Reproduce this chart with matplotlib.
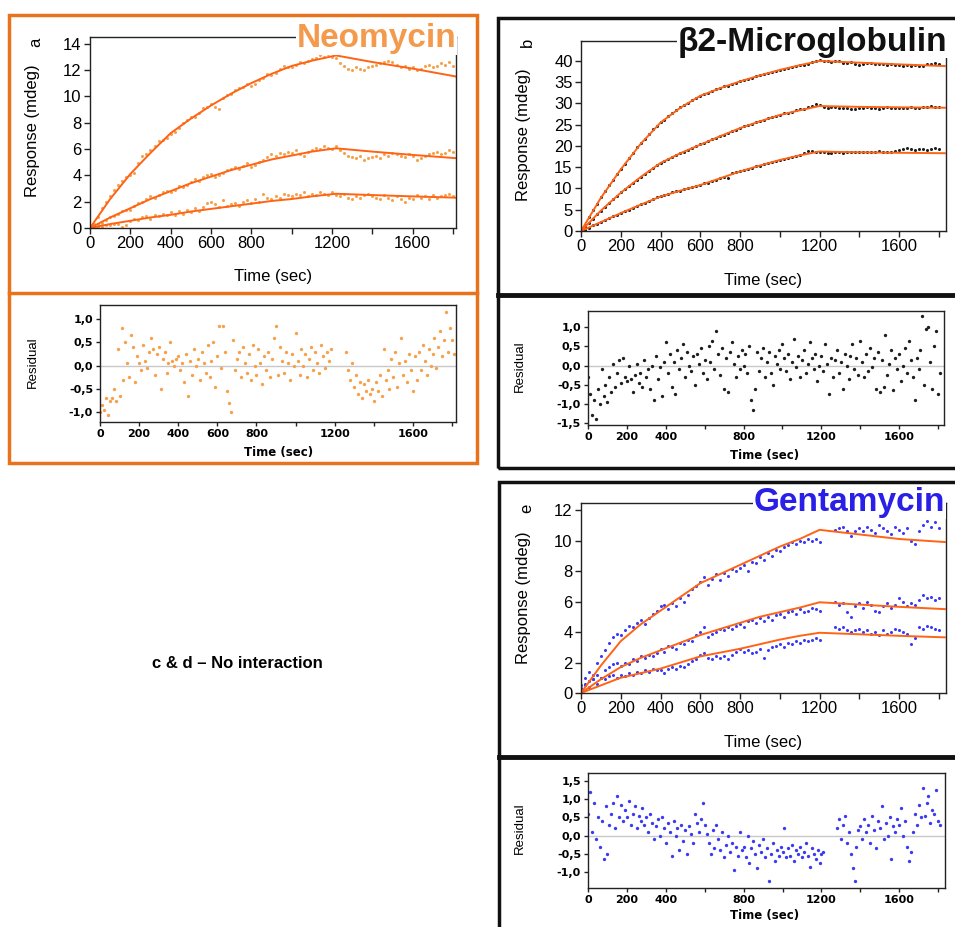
import matplotlib
matplotlib.use('Agg')
import matplotlib.pyplot as plt
import numpy as np
from matplotlib.patches import Rectangle
from matplotlib.lines import Line2D

nan = np.nan

# sampled times (s)
t20 = np.arange(0, 1820, 20)   # measured response, every 20 s
t10 = np.arange(0, 1820, 10)   # residuals, every 10 s

# fitted curves
fit_t_a = [0, 100, 200, 300, 400, 500, 600, 700, 800, 900, 1000, 1100, 1220, 1400, 1600, 1815]
fit_a_hi = [0, 2.2, 4.1, 5.7, 7.2, 8.3, 9.3, 10.2, 11.0, 11.7, 12.3, 12.7, 13.1, 12.6, 12.1, 11.5]
fit_a_mid = [0, 0.8, 1.5, 2.2, 2.8, 3.4, 3.9, 4.4, 4.8, 5.2, 5.5, 5.8, 6.05, 5.8, 5.55, 5.3]
fit_a_lo = [0, 0.3, 0.55, 0.8, 1.0, 1.25, 1.45, 1.65, 1.85, 2.05, 2.2, 2.4, 2.6, 2.5, 2.4, 2.3]

fit_t_be = [0, 100, 200, 300, 400, 500, 600, 700, 800, 900, 1000, 1100, 1200, 1400, 1600, 1830]
fit_b_hi = [0, 7.8, 14.5, 20.5, 25.5, 29, 31.8, 33.6, 35.2, 36.6, 37.9, 39, 40, 39.6, 39.2, 38.8]
fit_b_mid = [0, 4.8, 9, 12.7, 16, 18.3, 20.3, 22.3, 24.2, 25.8, 27.3, 28.4, 29.4, 29.2, 29.1, 29.0]
fit_b_lo = [0, 2.1, 4.2, 6.2, 8.1, 9.5, 10.8, 12.4, 14, 15.4, 16.7, 17.8, 18.7, 18.5, 18.4, 18.3]

fit_e_hi = [0, 1.8, 3.4, 4.5, 5.4, 6.3, 7.2, 7.8, 8.4, 9.0, 9.6, 10.1, 10.7, 10.4, 10.1, 9.9]
fit_e_mid = [0, 0.9, 1.7, 2.3, 2.8, 3.3, 3.8, 4.2, 4.6, 5.0, 5.3, 5.6, 5.95, 5.8, 5.65, 5.5]
fit_e_lo = [0, 0.5, 1.0, 1.3, 1.6, 2.0, 2.4, 2.65, 2.9, 3.2, 3.5, 3.75, 3.95, 3.85, 3.75, 3.65]

# measured data, Neomycin
a_hi = [0.0, 0.3, 0.8, 1.5, 2.0, 2.4, 2.9, 3.3, 3.6, 3.9,
        4.0, 4.2, 4.9, 5.5, 5.6, 5.9, 6.2, 6.6, 6.7, 6.8,
        7.1, 7.3, 7.6, 8.0, 8.2, 8.4, 8.4, 8.7, 9.1, 9.2,
        9.4, 9.2, 9.0, 9.9, 10.1, 10.2, 10.5, 10.6, 10.7, 10.9,
        10.8, 10.9, 11.2, 11.4, 11.7, 11.6, 11.8, 12.1, 12.3, 12.2,
        12.2, 12.4, 12.6, 12.5, 12.7, 12.8, 12.9, 13.1, 13.0, 13.2,
        13.0, 12.9, 12.5, 12.3, 12.1, 12.0, 12.2, 12.1, 12.0, 12.2,
        12.3, 12.4, 12.5, 12.6, 12.7, 12.6, 12.4, 12.2, 12.3, 12.1,
        12.2, 12.0, 12.1, 12.3, 12.4, 12.2, 12.3, 12.5, 12.4, 12.6,
        12.3]
a_mid = [0.0, 0.1, 0.3, 0.4, 0.6, 0.8, 0.9, 1.1, 1.3, 1.4,
         1.4, 1.7, 1.9, 2.0, 2.2, 2.4, 2.3, 2.5, 2.7, 2.8,
         2.7, 2.9, 3.2, 3.1, 3.3, 3.5, 3.7, 3.6, 3.9, 4.0,
         4.1, 3.9, 4.0, 4.2, 4.4, 4.5, 4.6, 4.5, 4.7, 4.9,
         4.6, 4.8, 5.0, 5.2, 5.4, 5.6, 5.5, 5.7, 5.6, 5.8,
         5.7, 5.9, 5.6, 5.5, 5.8, 5.9, 6.1, 6.0, 6.2, 6.1,
         6.0, 6.2, 5.9, 5.7, 5.5, 5.4, 5.3, 5.5, 5.2, 5.3,
         5.4, 5.5, 5.3, 5.6, 5.5, 5.7, 5.6, 5.5, 5.4, 5.6,
         5.5, 5.2, 5.3, 5.5, 5.6, 5.7, 5.8, 5.6, 5.7, 5.9,
         5.8]
a_lo = [0.0, 0.0, 0.1, 0.1, 0.2, 0.2, 0.3, 0.3, 0.1, 0.2,
        0.5, 0.7, 0.6, 0.8, 0.9, 0.7, 1.0, 0.9, 1.1, 1.0,
        1.2, 1.0, 1.3, 1.1, 1.4, 1.2, 1.5, 1.3, 1.6, 1.9,
        2.0, 1.8, 1.6, 2.1, 1.7, 1.8, 1.9, 1.7, 2.0, 2.1,
        1.9, 2.2, 2.0, 2.6, 2.3, 2.2, 2.4, 2.3, 2.6, 2.5,
        2.4, 2.6, 2.5, 2.7, 2.4, 2.6, 2.5, 2.7, 2.6, 2.5,
        2.7, 2.5, 2.4, 2.6, 2.3, 2.2, 2.4, 2.3, 2.5, 2.6,
        2.4, 2.3, 2.2, 2.5, 2.3, 2.1, 2.4, 2.2, 2.0, 2.3,
        2.2, 2.5, 2.3, 2.4, 2.2, 2.5, 2.3, 2.4, 2.5, 2.6,
        2.4]

# measured data, b2-microglobulin
b_hi = [0.2, 1.4, 3.2, 4.9, 6.3, 7.9, 9.4, 10.8, 12.1, 13.4,
        14.6, 15.8, 17.2, 18.4, 19.7, 20.6, 21.7, 22.8, 23.9, 24.6,
        25.6, 26.2, 27.0, 27.7, 28.4, 29.1, 29.7, 30.2, 30.8, 31.3,
        31.7, 32.2, 32.5, 32.9, 33.3, 33.6, 34.0, 34.2, 34.7, 34.9,
        35.3, 35.5, 35.8, 36.1, 36.4, 36.6, 37.0, 37.2, 37.4, 37.7,
        37.9, 38.2, 38.4, 38.6, 38.8, 39.0, 39.1, 39.3, 39.8, 40.1,
        40.3, 40.0, 39.9, 39.8, 40.0, 39.9, 39.6, 39.5, 39.7, 39.3,
        39.0, 39.4, 39.6, 39.5, 39.3, 39.4, 39.2, 39.1, 39.3, 39.1,
        39.0, 38.9, 39.1, 38.9, 39.0, 38.8, 38.9, 39.2, 39.4, 39.5,
        39.3]
b_mid = [0.1, 0.9, 1.9, 2.9, 3.9, 4.8, 5.7, 6.6, 7.5, 8.3,
         9.1, 9.8, 10.6, 11.4, 12.0, 12.8, 13.4, 14.2, 14.8, 15.5,
         16.0, 16.5, 17.0, 17.3, 17.8, 18.3, 18.7, 19.1, 19.5, 20.0,
         20.4, 20.8, 21.2, 21.6, 21.9, 22.3, 22.7, 23.1, 23.5, 23.8,
         24.3, 24.6, 24.9, 25.2, 25.6, 25.9, 26.2, 26.5, 26.9, 27.1,
         27.3, 27.7, 27.8, 28.1, 28.4, 28.6, 28.8, 29.1, 29.5, 29.8,
         29.6, 29.1, 29.0, 29.2, 29.1, 28.9, 29.0, 28.9, 28.7, 28.8,
         29.0, 28.9, 29.1, 29.0, 28.9, 28.8, 29.0, 29.1, 29.0, 28.9,
         29.0, 29.0, 28.9, 29.1, 29.0, 28.9, 29.1, 29.2, 29.3, 29.1,
         29.2]
b_lo = [0.0, 0.2, 0.7, 1.3, 1.7, 2.1, 2.6, 3.1, 3.5, 3.8,
        4.3, 4.6, 5.0, 5.4, 5.9, 6.3, 6.7, 7.1, 7.6, 7.9,
        8.2, 8.4, 8.8, 9.1, 9.3, 9.5, 9.8, 10.1, 10.3, 10.6,
        10.8, 11.2, 11.4, 11.8, 12.1, 12.4, 12.7, 12.5, 13.6, 13.8,
        14.0, 14.3, 14.5, 14.9, 15.2, 15.4, 15.7, 16.0, 16.3, 16.5,
        16.7, 17.0, 17.2, 17.4, 17.7, 17.9, 18.4, 18.9, 18.8, 18.6,
        18.7, 18.5, 18.4, 18.3, 18.6, 18.5, 18.4, 18.6, 18.5, 18.7,
        18.6, 18.7, 18.6, 18.5, 18.7, 18.8, 18.6, 18.7, 18.6, 18.8,
        19.0, 19.4, 19.5, 19.3, 19.1, 19.2, 19.3, 19.0, 19.2, 19.5,
        19.3]

# measured data, Gentamycin
e_hi = [0.5, 1.0, 1.4, 1.2, 2.0, 2.4, 2.8, 3.3, 3.7, 3.9,
        3.8, 4.1, 4.4, 4.3, 4.6, 4.8, 4.5, 4.9, 5.2, 5.4,
        5.7, 5.8, 5.5, 5.9, 5.7, 6.2, 6.0, 6.4, 6.8, 7.0,
        7.3, 7.6, 7.1, 7.5, 7.8, 7.4, 7.9, 7.7, 8.1, 8.0,
        8.2, 8.4, 8.0, 8.6, 8.5, 8.9, 8.7, 9.2, 9.0, 9.4,
        9.3, 9.6, 9.7, 9.9, 9.8, 10.0, 9.9, 10.1, 10.0, 10.1,
        9.9, nan, nan, nan, 10.7, 10.8, 10.9, 10.6, 10.3, 10.6,
        10.8, 10.6, 10.9, 10.7, 10.5, 11.0, 10.8, 10.6, 10.4, 10.9,
        10.7, 10.5, 10.8, 10.0, 9.8, 10.6, 11.0, 11.3, 10.9, 11.2,
        10.8]
e_mid = [0.3, 0.6, 0.4, 0.9, 1.2, 1.0, 1.5, 1.7, 1.9, 2.0,
         1.8, 2.0, 1.9, 2.2, 2.1, 2.4, 2.3, 2.5, 2.4, 2.6,
         2.9, 2.7, 3.1, 3.0, 2.9, 3.3, 3.2, 3.5, 3.4, 3.8,
         4.0, 4.3, 3.7, 3.9, 4.0, 4.2, 4.1, 4.3, 4.2, 4.4,
         4.5, 4.3, 4.7, 4.8, 4.6, 4.9, 4.7, 5.0, 4.8, 5.1,
         5.2, 5.0, 5.3, 5.4, 5.2, 5.5, 5.3, 5.4, 5.6, 5.5,
         5.4, nan, nan, nan, 6.0, 5.8, 5.9, 5.3, 5.0, 5.7,
         5.9, 5.6, 6.0, 5.8, 5.4, 5.3, 5.7, 5.9, 5.6, 5.8,
         6.2, 6.0, 5.7, 5.9, 5.8, 6.1, 6.4, 6.2, 6.3, 6.1,
         6.2]
e_lo = [0.2, 0.5, 0.8, 0.9, 0.6, 1.0, 0.9, 1.1, 1.2, 1.0,
        1.2, 1.1, 1.3, 1.2, 1.4, 1.3, 1.5, 1.4, 1.6, 1.5,
        1.5, 1.3, 1.6, 1.7, 1.6, 1.8, 1.7, 1.9, 2.1, 2.2,
        2.5, 2.6, 2.3, 2.2, 2.4, 2.3, 2.4, 2.2, 2.5, 2.7,
        2.9, 2.7, 2.8, 2.6, 2.7, 2.9, 2.3, 2.8, 3.0, 3.1,
        3.2, 3.0, 3.3, 3.2, 3.4, 3.3, 3.5, 3.4, 3.5, 3.6,
        3.5, nan, nan, nan, 4.3, 4.2, 4.3, 4.1, 4.0, 4.1,
        4.2, 4.0, 4.1, 3.9, 4.0, 3.8, 4.1, 3.9, 4.0, 4.2,
        4.1, 4.0, 3.9, 3.2, 3.6, 4.3, 4.2, 4.4, 4.3, 4.2,
        4.1]

# residuals
res_a = [-1.0, -0.85, -0.95, -0.7, -1.05, -0.75, -0.7, -0.5, -0.75, 0.35,
         -0.65, 0.8, -0.3, 0.5, 0.05, -0.25, 0.65, 0.4, -0.35, 0.2,
         0.05, -0.1, 0.45, 0.1, -0.05, 0.3, 0.6, 0.35, -0.2, 0.25,
         0.4, -0.5, 0.15, 0.3, -0.15, 0.05, 0.5, 0.1, 0.0, 0.15,
         0.2, -0.1, 0.05, -0.35, 0.25, -0.65, 0.1, -0.2, 0.35, 0.0,
         0.15, -0.3, 0.3, 0.05, -0.15, 0.45, -0.25, 0.1, 0.5, -0.45,
         0.2, 0.85, -0.05, 0.85, 0.3, -0.55, -0.8, -1.0, 0.55, -0.1,
         0.15, 0.3, -0.25, 0.4, 0.05, -0.15, 0.25, -0.3, 0.45, 0.0,
         -0.2, 0.35, 0.05, -0.4, 0.2, -0.1, 0.3, -0.25, 0.15, 0.6,
         0.85, -0.2, 0.4, 0.1, -0.15, 0.3, 0.05, -0.3, 0.25, 0.0,
         0.7, 0.1, -0.2, 0.35, 0.0, 0.25, -0.25, 0.15, 0.4, -0.1,
         0.3, 0.05, -0.15, 0.45, 0.2, -0.05, 0.3, 0.1, 0.35, nan,
         nan, nan, nan, nan, nan, nan, 0.3, -0.1, -0.3, 0.05,
         -0.45, -0.2, -0.6, -0.35, -0.7, -0.4, -0.55, -0.3, -0.6, -0.5,
         -0.75, -0.35, -0.55, -0.2, -0.65, 0.35, -0.3, -0.1, -0.5, 0.15,
         -0.25, 0.3, -0.45, 0.05, 0.6, -0.2, 0.1, -0.35, 0.25, -0.1,
         -0.55, 0.2, -0.3, 0.3, -0.1, 0.45, 0.1, -0.2, 0.35, 0.0,
         0.25, 0.6, -0.05, 0.4, 0.75, 0.2, 0.55, 1.15, 0.3, 0.8,
         0.55, 0.25]
res_b = [-0.3, -0.75, -1.3, -0.9, -1.4, -0.6, -1.0, -0.1, -0.8, -0.5,
         -0.95, -0.3, -0.7, 0.05, -0.55, -0.2, 0.15, -0.45, 0.2, -0.3,
         -0.4, 0.0, -0.35, -0.7, -0.25, 0.05, -0.45, -0.2, -0.55, 0.15,
         -0.3, -0.1, -0.6, 0.0, -0.9, 0.25, -0.35, -0.05, -0.8, 0.1,
         0.6, -0.2, 0.3, -0.55, 0.1, -0.75, 0.4, -0.1, 0.2, 0.55,
         -0.3, 0.35, 0.0, -0.15, 0.25, -0.5, 0.3, 0.05, 0.45, -0.2,
         0.15, -0.35, 0.5, 0.1, 0.65, -0.1, 0.9, 0.3, -0.25, 0.45,
         -0.6, 0.2, -0.7, 0.35, 0.6, 0.05, -0.3, 0.25, -0.1, 0.4,
         0.0, 0.3, -0.2, 0.5, -0.9, -1.15, -0.6, 0.35, -0.15, 0.2,
         0.45, -0.3, 0.1, 0.35, -0.2, -0.5, 0.25, 0.05, 0.4, -0.1,
         0.55, 0.2, -0.15, 0.3, -0.35, 0.1, 0.7, -0.05, 0.25, -0.3,
         0.15, 0.4, -0.2, 0.05, 0.6, 0.2, -0.1, 0.3, -0.4, 0.0,
         0.25, -0.15, 0.55, 0.05, -0.75, 0.2, -0.3, 0.15, 0.4, -0.2,
         0.1, -0.6, 0.3, 0.0, -0.35, 0.25, 0.55, -0.1, 0.2, -0.25,
         0.65, 0.1, -0.3, 0.3, -0.15, 0.45, -0.05, 0.2, -0.6, 0.35,
         -0.7, 0.15, -0.55, 0.8, -0.25, 0.05, 0.4, -0.65, 0.2, -0.1,
         0.3, -0.4, 0.0, 0.45, -0.2, 0.65, 0.15, -0.3, -0.9, 0.2,
         -0.1, 0.4, 1.3, -0.5, 0.95, 1.0, 0.1, -0.6, 0.5, 0.9,
         -0.75, -0.2]
res_e = [0.6, 1.2, 0.1, 0.9, -0.1, 0.5, -0.3, 0.4, -0.65, 0.8,
         -0.5, 0.3, 0.6, 0.9, 0.2, 1.1, 0.5, 0.85, 0.4, 0.7,
         0.5, 0.95, 0.3, 0.6, 0.8, 0.2, 0.55, 0.4, 0.75, 0.3,
         0.5, 0.1, 0.6, 0.35, -0.1, 0.25, 0.45, 0.0, 0.5, 0.2,
         -0.2, 0.35, 0.1, -0.55, 0.4, 0.0, 0.2, -0.4, 0.3, -0.15,
         0.15, -0.5, 0.25, 0.05, -0.2, 0.6, 0.35, 0.1, 0.45, 0.9,
         0.3, 0.05, -0.2, -0.5, 0.15, -0.35, 0.3, -0.1, -0.4, 0.1,
         -0.6, -0.25, 0.0, -0.45, -0.2, -0.95, -0.3, -0.55, 0.1, -0.4,
         -0.3, -0.6, 0.0, -0.75, -0.35, -0.15, -0.5, -0.9, -0.25, -0.45,
         -0.1, -0.6, -0.35, -1.25, -0.5, -0.2, -0.7, -0.4, -0.55, -0.3,
         -0.45, 0.2, -0.6, -0.35, -0.55, -0.25, -0.7, -0.4, -0.5, -0.3,
         -0.6, -0.45, -0.2, -0.55, -0.85, -0.35, -0.5, -0.65, -0.4, -0.75,
         -0.5, -0.45, nan, nan, nan, nan, nan, nan, 0.2, 0.45,
         -0.1, 0.3, 0.55, -0.2, 0.1, -0.5, -0.9, -1.25, -0.3, 0.15,
         0.25, -0.1, 0.45, 0.1, 0.3, -0.2, 0.55, 0.15, -0.35, 0.4,
         0.2, 0.8, -0.1, 0.35, 0.0, 0.5, -0.65, 0.25, 0.1, 0.45,
         0.3, 0.75, 0.0, 0.4, -0.3, -0.7, -0.45, 0.1, 0.6, 0.3,
         0.85, 0.5, 1.3, 0.55, 0.9, 1.1, 0.35, 0.7, 0.6, 1.25,
         0.4, 0.3]

main_xticks = [0, 200, 400, 600, 800, 1000, 1200, 1400, 1600, 1800]
main_xlabels = ['0', '200', '400', '600', '800', '', '1200', '', '1600', '']
res_xlabels_a = ['0', '200', '400', '600', '800', '', '1200', '', '1600', '']
res_xlabels_be = ['0', '200', '400', '', '800', '', '1200', '', '1600', '']

ORANGE_DOT = '#f7a048'
FIT = '#ff6315'
BLUE_DOT = '#3a3af5'
BLACK_DOT = '#1e1e1e'
FRAME_OR = '#e8731c'

MAIN_FONT = ['Liberation Sans', 'DejaVu Sans']
RES_FONT = ['DejaVu Sans']
NARROW = ['Liberation Sans Narrow', 'Liberation Sans', 'DejaVu Sans']

W, H = 955, 927
fig = plt.figure(figsize=(W / 100, H / 100), dpi=100)


def px_axes(l, t, r, b):
    return fig.add_axes([l / W, 1 - b / H, (r - l) / W, (b - t) / H])


def ftxt(x, y, s, **kw):
    return fig.text(x / W, 1 - y / H, s, **kw)


def frame(ax):
    for sp in ax.spines.values():
        sp.set_color('#222222')
        sp.set_linewidth(1.0)
    ax.tick_params(direction='out', length=4, width=1, color='#222222', pad=2)


def main_panel(ax, fit_t, fits, t, series, color, xmax, ymax, yticks):
    for d in series:
        ax.plot(t, d, 'o', ms=2.2, color=color, mec='none')
    for f in fits:
        ax.plot(fit_t, f, '-', color=FIT, lw=1.4)
    ax.set_xlim(0, xmax)
    ax.set_ylim(0, ymax)
    ax.set_xticks(main_xticks)
    ax.set_xticklabels(main_xlabels, family=MAIN_FONT, fontsize=12)
    ax.set_yticks(yticks)
    ax.set_yticklabels([str(v) for v in yticks], family=MAIN_FONT, fontsize=12)
    frame(ax)


def res_panel(ax, res, color, xmax, ylim, yticks, xlabels):
    ax.axhline(0, color='#c8c8c8', lw=1.0, zorder=0)
    ax.plot(t10, res, 'o', ms=2.4, color=color, mec='none')
    ax.set_xlim(0, xmax)
    ax.set_ylim(*ylim)
    ax.set_xticks(main_xticks)
    ax.set_xticklabels(xlabels, family=RES_FONT, fontsize=8, fontweight='bold')
    ax.set_yticks(yticks)
    ax.set_yticklabels([('%.1f' % v).replace('.', ',') for v in yticks],
                       family=RES_FONT, fontsize=8, fontweight='bold')
    frame(ax)
    ax.tick_params(length=3)


# ---- panel a: Neomycin
ax = px_axes(90, 37, 456, 228)
main_panel(ax, fit_t_a, [fit_a_hi, fit_a_mid, fit_a_lo], t20, [a_hi, a_mid, a_lo],
           ORANGE_DOT, 1815, 14.5, list(range(0, 15, 2)))
ax = px_axes(100, 305, 456, 422)
res_panel(ax, res_a, ORANGE_DOT, 1820, (-1.21, 1.30), [-1.0, -0.5, 0.0, 0.5, 1.0], res_xlabels_a)

# ---- panel b: b2-microglobulin
ax = px_axes(581, 41, 946, 231)
main_panel(ax, fit_t_be, [fit_b_hi, fit_b_mid, fit_b_lo], t20, [b_hi, b_mid, b_lo],
           BLACK_DOT, 1836, 44.7, list(range(0, 41, 5)))
ax = px_axes(588, 311, 944, 425)
res_panel(ax, res_b, BLACK_DOT, 1831, (-1.55, 1.42), [-1.5, -1.0, -0.5, 0.0, 0.5, 1.0], res_xlabels_be)

# ---- panel e: Gentamycin
ax = px_axes(581, 503, 946, 693)
main_panel(ax, fit_t_be, [fit_e_hi, fit_e_mid, fit_e_lo], t20, [e_hi, e_mid, e_lo],
           BLUE_DOT, 1836, 12.46, list(range(0, 13, 2)))
ax = px_axes(588, 773, 945, 888)
res_panel(ax, res_e, BLUE_DOT, 1835, (-1.44, 1.72), [-1.0, -0.5, 0.0, 0.5, 1.0, 1.5], res_xlabels_be)

# ---- axis labels
lab = dict(family=MAIN_FONT, fontsize=12, ha='center', va='center')
rlab = dict(family=RES_FONT, fontsize=8.5, fontweight='bold', ha='center', va='center')
nlab = dict(family=NARROW, fontsize=9.5, ha='center', va='center', rotation=90)

ftxt(33, 131, 'Response (mdeg)', rotation=90, **lab)
ftxt(36, 42, 'a', rotation=90, **lab)
ftxt(273, 277, 'Time (sec)', **lab)
ftxt(33, 362, 'Residual', **nlab)
ftxt(279, 452, 'Time (sec)', **rlab)

ftxt(523, 135, 'Response (mdeg)', rotation=90, **lab)
ftxt(527, 42, 'b', rotation=90, **lab)
ftxt(763, 280, 'Time (sec)', **lab)
ftxt(520, 366, 'Residual', **nlab)
ftxt(765, 455, 'Time (sec)', **rlab)

ftxt(523, 598, 'Response (mdeg)', rotation=90, **lab)
ftxt(527, 508, 'e', rotation=90, **lab)
ftxt(763, 743, 'Time (sec)', **lab)
ftxt(520, 828, 'Residual', **nlab)
ftxt(765, 916, 'Time (sec)', **rlab)

# ---- panel titles
tbox = dict(facecolor='white', edgecolor='none', pad=0.5)
ftxt(456, 39, 'Neomycin', family=MAIN_FONT, fontsize=24, fontweight='bold',
     color='#f39a4c', ha='right', va='center', bbox=tbox)
ftxt(947, 42, '\u03b22-Microglobulin', family=MAIN_FONT, fontsize=24, fontweight='bold',
     color='#111111', ha='right', va='center', bbox=tbox)
ftxt(945, 503, 'Gentamycin', family=MAIN_FONT, fontsize=24, fontweight='bold',
     color='#2a1fe6', ha='right', va='center', bbox=tbox)

ftxt(237, 663, 'c & d \u2013 No interaction', family=MAIN_FONT, fontsize=12,
     fontweight='bold', ha='center', va='center')


# ---- panel frames
def prect(l, t, r, b, color, lw):
    fig.add_artist(Rectangle((l / W, 1 - b / H), (r - l) / W, (b - t) / H,
                             transform=fig.transFigure, fill=False,
                             edgecolor=color, lw=lw))


def pline(l, r, y, color, lw):
    fig.add_artist(Line2D([l / W, r / W], [1 - y / H, 1 - y / H],
                          transform=fig.transFigure, color=color, lw=lw))


prect(9, 15, 477, 463, FRAME_OR, 2.5)
pline(9, 477, 293, FRAME_OR, 2.5)
prect(498, 18, 965, 468, '#111111', 2.5)
pline(498, 965, 295, '#111111', 3.5)
prect(499, 482, 965, 940, '#111111', 2.5)
pline(499, 965, 757, '#111111', 3.5)

fig.savefig('out.png', dpi=100)
